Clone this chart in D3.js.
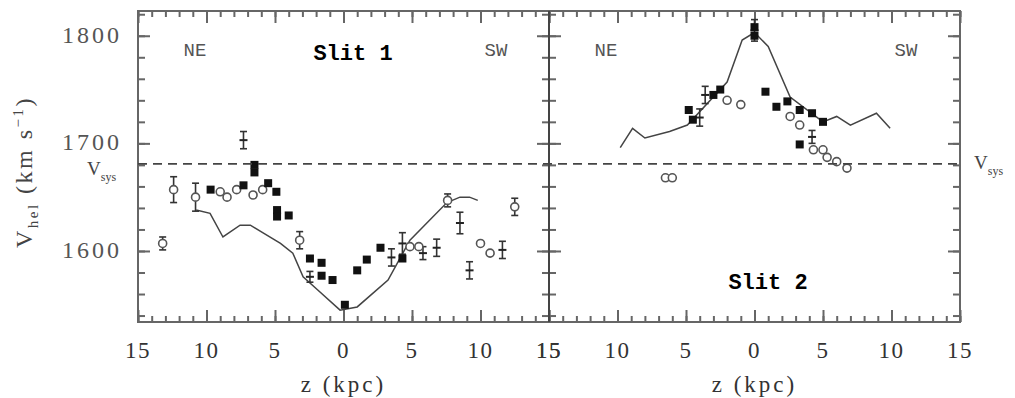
<!DOCTYPE html>
<html>
<head>
<meta charset="utf-8">
<script src="https://cdn.jsdelivr.net/npm/d3@7"></script>
<style>
  body { margin: 0; background: #fff; }
  svg { display: block; }
</style>
</head>
<body>
<div id="chart"></div>
<script>
"use strict";

// systemic velocity (dashed line)
var vSys = 1681;

// slit 1 : [z (kpc), V_hel (km/s), error]
var slit1Open = [
  [-13.2, 1607, 6], [-12.4, 1657, 12], [-10.8, 1650, 13], [-9.0, 1655, 0], [-8.5, 1650, 0],
  [-7.8, 1657, 0], [-6.6, 1652, 0], [-5.9, 1657, 0], [-3.2, 1610, 8], [4.85, 1604, 0],
  [5.5, 1604, 0], [7.6, 1647, 6], [10.0, 1607, 0], [10.7, 1598, 0], [12.5, 1641, 8]
];
var slit1Filled = [
  [-9.7, 1657], [-7.3, 1661], [-6.5, 1680], [-6.5, 1673], [-5.5, 1663], [-4.9, 1655],
  [-4.85, 1638], [-4.85, 1632], [-4.0, 1633], [-2.45, 1593], [-1.6, 1589], [-1.6, 1577],
  [-0.8, 1573], [0.1, 1550], [1.0, 1582], [1.7, 1592], [2.7, 1603], [4.3, 1593]
];
var slit1Bars = [
  [-7.3, 1703, 8], [-2.45, 1576, 5], [3.5, 1594, 8], [4.3, 1607, 10], [5.8, 1598, 6],
  [6.8, 1603, 8], [8.5, 1626, 10], [9.2, 1582, 8], [11.6, 1601, 8]
];
var slit1Curve = [
  [-10.75, 1638], [-9.74, 1635], [-8.8, 1613], [-7.55, 1624], [-6.8, 1624], [-5.9, 1617],
  [-4.6, 1607], [-3.7, 1598], [-2.95, 1576], [-1.9, 1564], [-0.25, 1545], [1.0, 1548],
  [3.25, 1573], [4.85, 1610], [7.55, 1645], [8.5, 1650], [9.2, 1650], [9.8, 1647]
];

// slit 2
var slit2Open = [
  [-6.5, 1668, 0], [-6.0, 1668, 0], [-1.0, 1736, 0], [-2.0, 1740, 0], [2.6, 1725, 0],
  [3.3, 1717, 0], [5.3, 1687, 0], [6.0, 1683, 0], [6.75, 1677, 0], [4.3, 1694, 0], [5.0, 1694, 0]
];
var slit2Filled = [
  [0, 1808], [0, 1800], [-4.8, 1731], [-4.5, 1722], [-2.5, 1750], [-3.0, 1745],
  [0.8, 1748], [1.6, 1734], [2.4, 1739], [3.3, 1731], [4.2, 1728], [5.0, 1720], [3.3, 1699]
];
var slit2Bars = [
  [-4.0, 1724, 8], [-3.6, 1745, 8], [4.2, 1706, 6], [0, 1805, 10]
];
var slit2Curve = [
  [-9.8, 1696], [-8.9, 1714], [-8.0, 1705], [-6.2, 1711], [-4.9, 1717], [-2.0, 1757],
  [-0.9, 1796], [0.0, 1803], [1.0, 1790], [2.6, 1743], [5.0, 1720], [6.0, 1725],
  [7.0, 1717], [8.9, 1728], [9.9, 1714]
];

var xMajor = [-15, -10, -5, 0, 5, 10, 15];
var yMajor = [1600, 1700, 1800];

var width = 1015, height = 398;
var plotTop = 11, plotBottom = 322;

var svg = d3.select("#chart").append("svg")
  .attr("width", width)
  .attr("height", height);

var y = d3.scaleLinear().domain([1534, 1823]).range([plotBottom, plotTop]);
var x1 = d3.scaleLinear().domain([-15, 15]).range([138, 549]);
var x2 = d3.scaleLinear().domain([-15, 15]).range([549, 960]);

var axisColor = "#666";
var serif = "'Liberation Serif', 'DejaVu Serif', serif";
var mono = "'Liberation Mono', 'DejaVu Sans Mono', monospace";

function styleAxis(g) {
  g.select(".domain").remove();
  g.selectAll(".tick line").attr("stroke", axisColor).attr("stroke-width", 2);
  g.selectAll(".tick text").remove();
}

// draws one panel: frame ticks, curve, points
function drawPanel(x, openPts, filledPts, barPts, curve) {
  var g = svg.append("g");

  // minor + major ticks along x (bottom and top)
  [[d3.axisBottom, plotBottom], [d3.axisTop, plotTop]].forEach(function(a) {
    g.append("g").attr("transform", "translate(0," + a[1] + ")")
      .call(a[0](x).tickValues(d3.range(-15, 16, 1)).tickSize(-6))
      .call(styleAxis);
    g.append("g").attr("transform", "translate(0," + a[1] + ")")
      .call(a[0](x).tickValues(xMajor).tickSize(-12))
      .call(styleAxis);
  });

  // ticks along y at both panel edges
  var x0 = x.range()[0], xe = x.range()[1];
  [[d3.axisLeft, x0], [d3.axisRight, xe]].forEach(function(a) {
    g.append("g").attr("transform", "translate(" + a[1] + ",0)")
      .call(a[0](y).tickValues(d3.range(1540, 1821, 20)).tickSize(-7))
      .call(styleAxis);
    g.append("g").attr("transform", "translate(" + a[1] + ",0)")
      .call(a[0](y).tickValues(yMajor).tickSize(-12))
      .call(styleAxis);
  });

  // x tick labels
  g.selectAll(".xlab").data(xMajor).enter().append("text")
    .attr("x", function(d) { return x(d); })
    .attr("y", 358)
    .attr("text-anchor", "middle")
    .attr("font-family", serif)
    .attr("font-size", 23)
    .attr("letter-spacing", 1.5)
    .attr("fill", "#333")
    .text(function(d) { return Math.abs(d); });

  g.append("text")
    .attr("x", x(0))
    .attr("y", 392)
    .attr("text-anchor", "middle")
    .attr("font-family", serif)
    .attr("font-size", 23)
    .attr("letter-spacing", 3)
    .attr("fill", "#333")
    .text("z (kpc)");

  // model curve
  g.append("path")
    .datum(curve)
    .attr("fill", "none")
    .attr("stroke", "#444")
    .attr("stroke-width", 1.5)
    .attr("d", d3.line()
      .x(function(d) { return x(d[0]); })
      .y(function(d) { return y(d[1]); }));

  // error bars
  var withErr = barPts.concat(openPts.filter(function(d) { return d[2] > 0; }));
  var eb = g.selectAll(".err").data(withErr).enter().append("g")
    .attr("stroke", "#333").attr("stroke-width", 1.6);
  eb.append("line")
    .attr("x1", function(d) { return x(d[0]); })
    .attr("x2", function(d) { return x(d[0]); })
    .attr("y1", function(d) { return y(d[1] - d[2]); })
    .attr("y2", function(d) { return y(d[1] + d[2]); });
  [-1, 1].forEach(function(s) {
    eb.append("line")
      .attr("x1", function(d) { return x(d[0]) - 3.5; })
      .attr("x2", function(d) { return x(d[0]) + 3.5; })
      .attr("y1", function(d) { return y(d[1] + s * d[2]); })
      .attr("y2", function(d) { return y(d[1] + s * d[2]); });
  });
  g.selectAll(".bar-mark").data(barPts).enter().append("line")
    .attr("x1", function(d) { return x(d[0]) - 4; })
    .attr("x2", function(d) { return x(d[0]) + 4; })
    .attr("y1", function(d) { return y(d[1]); })
    .attr("y2", function(d) { return y(d[1]); })
    .attr("stroke", "#222").attr("stroke-width", 2);

  // open circles
  g.selectAll(".open").data(openPts).enter().append("circle")
    .attr("cx", function(d) { return x(d[0]); })
    .attr("cy", function(d) { return y(d[1]); })
    .attr("r", 4)
    .attr("fill", "#fff")
    .attr("stroke", "#555")
    .attr("stroke-width", 1.6);

  // filled squares
  g.selectAll(".filled").data(filledPts).enter().append("rect")
    .attr("x", function(d) { return x(d[0]) - 4; })
    .attr("y", function(d) { return y(d[1]) - 4; })
    .attr("width", 8)
    .attr("height", 8)
    .attr("fill", "#111");

  return g;
}

var p1 = drawPanel(x1, slit1Open, slit1Filled, slit1Bars, slit1Curve);
var p2 = drawPanel(x2, slit2Open, slit2Filled, slit2Bars, slit2Curve);

// frame
svg.append("rect")
  .attr("x", x1.range()[0]).attr("y", plotTop)
  .attr("width", x2.range()[1] - x1.range()[0]).attr("height", plotBottom - plotTop)
  .attr("fill", "none").attr("stroke", axisColor).attr("stroke-width", 2);
svg.append("line")
  .attr("x1", x2.range()[0]).attr("x2", x2.range()[0])
  .attr("y1", plotTop).attr("y2", plotBottom)
  .attr("stroke", "#444").attr("stroke-width", 2);

// systemic velocity dashed line
svg.append("line")
  .attr("x1", x1.range()[0]).attr("x2", x2.range()[1])
  .attr("y1", y(vSys)).attr("y2", y(vSys))
  .attr("stroke", "#444").attr("stroke-width", 1.8)
  .attr("stroke-dasharray", "9,6");

// y tick labels
svg.selectAll(".ylab").data(yMajor).enter().append("text")
  .attr("x", 122)
  .attr("y", function(d) { return y(d) + 7; })
  .attr("text-anchor", "end")
  .attr("font-family", serif)
  .attr("font-size", 24)
  .attr("letter-spacing", 3)
  .attr("fill", "#555")
  .text(function(d) { return d; });

// V_sys labels
function vsysLabel(xp, yp) {
  var t = svg.append("text")
    .attr("x", xp).attr("y", yp)
    .attr("font-family", serif)
    .attr("font-size", 19)
    .attr("fill", "#444");
  t.append("tspan").text("V");
  t.append("tspan").attr("dy", 6).attr("font-size", 12).text("sys");
}
vsysLabel(87, 175);
vsysLabel(974, 169);

// y axis title
var yt = svg.append("text")
  .attr("transform", "translate(32,172) rotate(-90)")
  .attr("text-anchor", "middle")
  .attr("font-family", serif)
  .attr("font-size", 24)
  .attr("letter-spacing", 2.5)
  .attr("fill", "#444");
yt.append("tspan").text("V");
yt.append("tspan").attr("dy", 6).attr("font-size", 15).text("hel");
yt.append("tspan").attr("dy", -6).text(" (km s");
yt.append("tspan").attr("dy", -9).attr("font-size", 15).text("−1");
yt.append("tspan").attr("dy", 9).text(")");

// panel annotations
var notes = [
  { x: 195, y: 56, t: "NE", size: 19, weight: "normal", fill: "#555" },
  { x: 496, y: 56, t: "SW", size: 19, weight: "normal", fill: "#555" },
  { x: 606, y: 56, t: "NE", size: 19, weight: "normal", fill: "#555" },
  { x: 906, y: 56, t: "SW", size: 19, weight: "normal", fill: "#555" },
  { x: 353, y: 60, t: "Slit 1", size: 22, weight: "bold", fill: "#000" },
  { x: 768, y: 289, t: "Slit 2", size: 22, weight: "bold", fill: "#000" }
];
svg.selectAll(".note").data(notes).enter().append("text")
  .attr("x", function(d) { return d.x; })
  .attr("y", function(d) { return d.y; })
  .attr("text-anchor", "middle")
  .attr("font-family", mono)
  .attr("font-size", function(d) { return d.size; })
  .attr("font-weight", function(d) { return d.weight; })
  .attr("fill", function(d) { return d.fill; })
  .text(function(d) { return d.t; });
</script>
</body>
</html>
